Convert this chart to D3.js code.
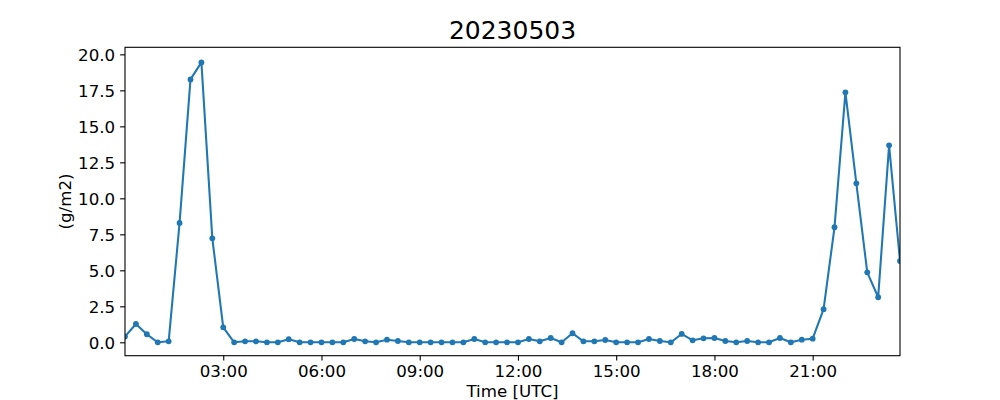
<!DOCTYPE html>
<html>
<head>
<meta charset="utf-8">
<script src="https://cdn.jsdelivr.net/npm/d3@7/dist/d3.min.js"></script>
<style>
  html, body { margin: 0; padding: 0; background: #fff; }
  svg text { font-family: "DejaVu Sans", sans-serif; fill: #000; }
</style>
</head>
<body>
<svg id="chart" width="1000" height="400"></svg>
<script>
const title = "20230503";
const xLabel = "Time [UTC]";
const yLabel = "(g/m2)";
const times = [
  "00:00","00:20","00:40","01:00","01:20","01:40","02:00","02:20","02:40",
  "03:00","03:20","03:40","04:00","04:20","04:40","05:00","05:20","05:40",
  "06:00","06:20","06:40","07:00","07:20","07:40","08:00","08:20","08:40",
  "09:00","09:20","09:40","10:00","10:20","10:40","11:00","11:20","11:40",
  "12:00","12:20","12:40","13:00","13:20","13:40","14:00","14:20","14:40",
  "15:00","15:20","15:40","16:00","16:20","16:40","17:00","17:20","17:40",
  "18:00","18:20","18:40","19:00","19:20","19:40","20:00","20:20","20:40",
  "21:00","21:20","21:40","22:00","22:20","22:40","23:00","23:20","23:40"
];
const values = [
  0.40, 1.27, 0.56, 0.00, 0.07, 8.29, 18.26, 19.44, 7.22,
  1.04, 0.00, 0.07, 0.07, 0.00, 0.00, 0.22, 0.00, 0.00,
  0.00, 0.00, 0.00, 0.23, 0.07, 0.00, 0.18, 0.09, 0.00,
  0.00, 0.00, 0.00, 0.00, 0.00, 0.23, 0.00, 0.00, 0.00,
  0.00, 0.23, 0.07, 0.30, 0.00, 0.63, 0.07, 0.07, 0.16,
  0.00, 0.00, 0.00, 0.23, 0.09, 0.00, 0.58, 0.14, 0.28,
  0.30, 0.09, 0.00, 0.09, 0.00, 0.00, 0.30, 0.00, 0.18,
  0.25, 2.30, 7.99, 17.36, 11.04, 4.86, 3.13, 13.68, 5.65
];
const xTickLabels = ["03:00","06:00","09:00","12:00","15:00","18:00","21:00"];
const yTickValues = [0.0, 2.5, 5.0, 7.5, 10.0, 12.5, 15.0, 17.5, 20.0];

const toHours = s => { const [h, m] = s.split(":").map(Number); return h + m / 60; };
const data = times.map((t, i) => ({ t: toHours(t), v: values[i] }));

const L = 125, R = 900, T = 47.3, B = 355.7;
const svg = d3.select("#chart");
const x = d3.scaleLinear().domain([data[0].t, data[data.length - 1].t]).range([L, R]);
const y = d3.scaleLinear().domain([-0.93, 20.49]).range([B, T]);

const fs = 16.67;
const color = "#1f77b4";

svg.append("defs").append("clipPath").attr("id", "clip")
  .append("rect").attr("x", L).attr("y", T).attr("width", R - L).attr("height", B - T);

const g = svg.append("g").attr("clip-path", "url(#clip)");
g.append("path").datum(data)
  .attr("fill", "none").attr("stroke", color).attr("stroke-width", 2.08)
  .attr("stroke-linejoin", "round").attr("stroke-linecap", "square")
  .attr("d", d3.line().x(d => x(d.t)).y(d => y(d.v)));
g.selectAll("circle").data(data).enter().append("circle")
  .attr("cx", d => x(d.t)).attr("cy", d => y(d.v)).attr("r", 2.9)
  .attr("fill", color);

// X axis
const xAxis = d3.axisBottom(x)
  .tickValues(xTickLabels.map(toHours))
  .tickFormat((d, i) => xTickLabels[i])
  .tickSize(4.9).tickPadding(4.9);
const gx = svg.append("g").attr("transform", `translate(0,${B})`).call(xAxis);
gx.select(".domain").remove();
gx.selectAll("line").attr("stroke", "#000").attr("stroke-width", 1.1);
gx.selectAll("text").attr("font-size", fs).attr("font-family", "DejaVu Sans").attr("dy", "0.72em");

// Y axis
const yAxis = d3.axisLeft(y)
  .tickValues(yTickValues)
  .tickFormat(d3.format(".1f"))
  .tickSize(4.9).tickPadding(4.9);
const gy = svg.append("g").attr("transform", `translate(${L},0)`).call(yAxis);
gy.select(".domain").remove();
gy.selectAll("line").attr("stroke", "#000").attr("stroke-width", 1.1);
gy.selectAll("text").attr("font-size", fs).attr("font-family", "DejaVu Sans").attr("dy", "0.36em");

// Frame
svg.append("rect").attr("x", L).attr("y", T).attr("width", R - L).attr("height", B - T)
  .attr("fill", "none").attr("stroke", "#000").attr("stroke-width", 1.1);

// Labels
svg.append("text").attr("x", (L + R) / 2).attr("y", 397).attr("text-anchor", "middle")
  .attr("font-size", fs).text(xLabel);
svg.append("text").attr("transform", `translate(70.5,${(T + B) / 2}) rotate(-90)`)
  .attr("text-anchor", "middle").attr("font-size", fs).text(yLabel);
svg.append("text").attr("x", (L + R) / 2).attr("y", 38.5).attr("text-anchor", "middle")
  .attr("font-size", 25).text(title);
</script>
</body>
</html>
